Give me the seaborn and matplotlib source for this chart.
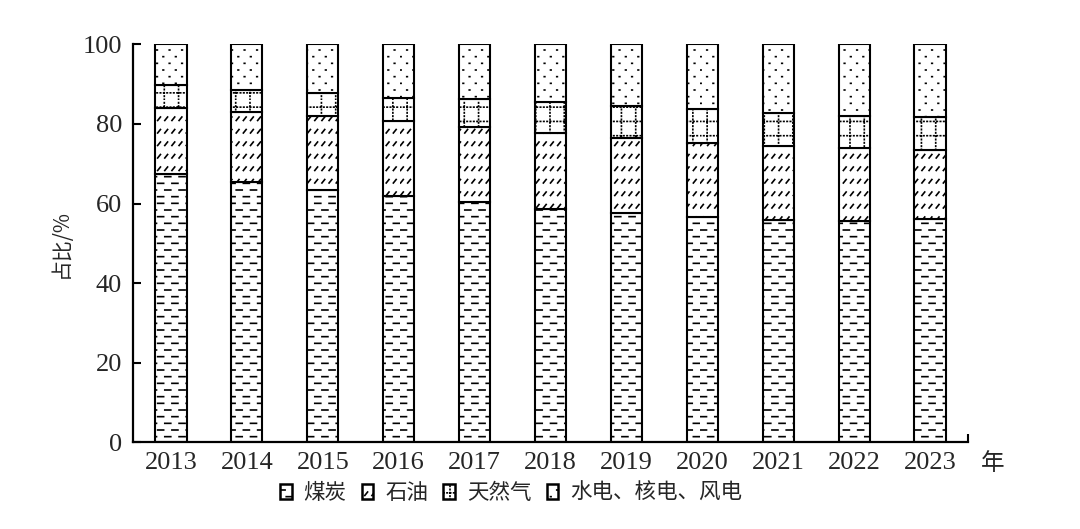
import numpy as np
import matplotlib
matplotlib.use("Agg")
import matplotlib.pyplot as plt
import matplotlib.hatch as mhatch
from matplotlib.path import Path
from matplotlib.patches import Patch
import seaborn as sns

# Energy consumption structure, share of total (%)
years = ["2013", "2014", "2015", "2016", "2017", "2018",
         "2019", "2020", "2021", "2022", "2023"]
coal = [67.3, 65.3, 63.3, 62.0, 60.4, 58.7, 57.6, 56.7, 55.8, 55.6, 56.1]
oil = [16.8, 17.6, 18.8, 18.8, 18.7, 19.0, 18.9, 18.5, 18.6, 18.4, 17.3]
gas = [5.7, 5.7, 5.6, 5.7, 7.1, 7.8, 8.1, 8.5, 8.3, 8.1, 8.4]
clean = [10.2, 11.4, 12.3, 13.5, 13.8, 14.5, 15.4, 16.3, 17.3, 17.9, 18.2]
series_names = ["煤炭", "石油", "天然气", "水电、核电、风电"]


# ---- print-style fill textures, built from short strokes in a unit tile ----
def dash_rows(rows, cols, length):
    segs = []
    for r in range(rows):
        y = (r + 0.5) / rows
        off = 0.0 if r % 2 == 0 else 0.5 / cols
        for c in range(cols):
            x0 = c / cols + off + 0.005
            segs.append([(x0, y), (x0 + length, y)])
    return segs


def slash_rows(rows, cols, size):
    segs = []
    for r in range(rows):
        y = (r + 0.5) / rows - size / 2
        for c in range(cols):
            x0 = c / cols + 0.005
            segs.append([(x0, y), (x0 + size * 0.8, y + size)])
    return segs


def dotted_grid(cells, dots, length):
    segs = []
    for i in range(cells):
        p = (i + 0.5) / cells
        for k in range(dots):
            q = k / dots + 0.003
            segs.append([(q, p), (q + length, p)])
            segs.append([(p, q), (p, q + length)])
    return segs


def make_hatch(char, segments):
    segs = np.asarray(segments, float).reshape(-1, 2)

    class _SegmentHatch(mhatch.HatchPatternBase):
        def __init__(self, hatch, density):
            self.num_vertices = len(segs) if char in hatch else 0

        def set_vertices_and_codes(self, vertices, codes):
            vertices[:] = segs
            codes[0::2] = Path.MOVETO
            codes[1::2] = Path.LINETO

    return _SegmentHatch


mhatch._hatch_types = [
    make_hatch("-", dash_rows(15, 7, 0.06)),
    make_hatch("/", slash_rows(8, 14, 0.035)),
    make_hatch("+", dotted_grid(7, 30, 0.004)),
    make_hatch(".", dash_rows(15, 8, 0.006)),
]
hatches = ["-", "/", "+", "."]

sns.set_theme(style="white")
plt.rcParams["font.family"] = ["Liberation Serif", "Noto Sans CJK SC"]
plt.rcParams["hatch.linewidth"] = 1.2
plt.rcParams["hatch.color"] = "black"

fig = plt.figure(figsize=(10.8, 5.29), dpi=100)
ax = fig.add_axes([133 / 1080, 1 - 442.3 / 529, (968 - 133) / 1080, (442.3 - 44.3) / 529])

bottom = np.zeros(len(years))
for vals, h in zip([coal, oil, gas, clean], hatches):
    sns.barplot(x=years, y=vals, bottom=bottom, ax=ax, color="white",
                saturation=1, width=0.41, edgecolor="black", linewidth=1.5,
                hatch=h)
    bottom = bottom + np.asarray(vals)

ax.set_xlim(-0.5, len(years) - 0.5)
ax.set_ylim(0, 100)
ax.set_yticks([0, 20, 40, 60, 80, 100])
ax.set_xlabel("")
ax.set_ylabel("占比/%", family=["Noto Sans CJK SC"], fontsize=15, labelpad=8)

for side in ["top", "right"]:
    ax.spines[side].set_visible(False)
for side in ["left", "bottom"]:
    ax.spines[side].set_color("black")
    ax.spines[side].set_linewidth(1.6)

ax.tick_params(axis="y", direction="in", length=6, width=1.5, color="black",
               labelsize=19, pad=8, left=True)
ax.tick_params(axis="x", length=0, labelsize=19, pad=7)
ax.set_xticks([len(years) - 0.5], minor=True)
ax.tick_params(axis="x", which="minor", direction="in", length=6, width=1.5,
               color="black", bottom=True)

fig.text(993 / 1080, 1 - 463 / 529, "年", family=["Noto Sans CJK SC"],
         fontsize=17, ha="center", va="center")

handles = [Patch(facecolor="white", edgecolor="black", linewidth=1.8, hatch=h)
           for h in hatches]
fig.legend(handles, series_names, loc="center", bbox_to_anchor=(511 / 1080, 1 - 493 / 529),
           ncol=4, frameon=False, prop={"family": "Noto Sans CJK SC", "size": 15.5},
           handlelength=0.55, handleheight=0.65, handletextpad=0.55,
           columnspacing=0.7, borderpad=0.1)

fig.savefig("out.png", dpi=100)
